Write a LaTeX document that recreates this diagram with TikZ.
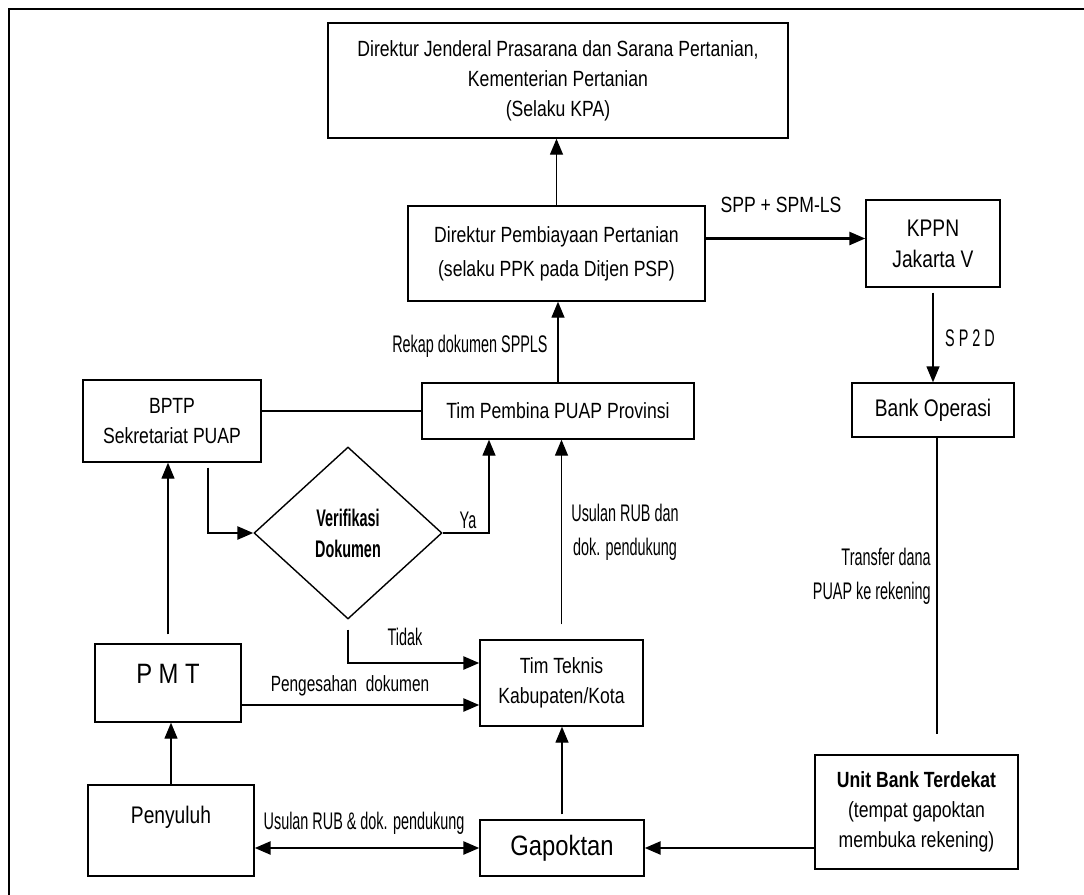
\documentclass[tikz,border=0pt]{standalone}
\usepackage{fontspec}
\setmainfont{Liberation Sans}
\newfontfamily\boxfont{Liberation Sans}[FakeStretch=0.8]
\newfontfamily\slimfont{Liberation Sans}[FakeStretch=0.7]
\newfontfamily\bigfont{Liberation Sans}[FakeStretch=0.85]
\newfontfamily\lblfont{Liberation Sans}[FakeStretch=0.6]
\usetikzlibrary{arrows.meta,positioning,shapes.geometric}
\tikzset{
  txt/.style={font=\boxfont\fontsize{11}{15}\selectfont,inner sep=0pt,align=center},
  bx/.style={txt,draw,line width=0.7pt},
  mid/.style={font=\boxfont\fontsize{12}{15.5}\selectfont},
  big/.style={font=\bigfont\fontsize{14}{17}\selectfont,inner sep=0pt},
  lbl/.style={font=\lblfont\fontsize{12}{17}\selectfont,inner sep=0pt,align=center},
  arr/.style={-{Triangle[length=8pt,width=6.5pt]},line width=0.7pt},
  tarr/.style={arr,line width=1.3pt},
  darr/.style={{Triangle[length=8pt,width=6.5pt]}-{Triangle[length=8pt,width=6.5pt]},line width=1.3pt}
}

\begin{document}
\begin{tikzpicture}[x=0.5pt,y=-0.5pt]
  \useasboundingbox[fill=white] (0,0) rectangle (1084,895);
  \draw[line width=1.2pt] (9,895) -- (9,9) -- (1084,9);
  % boxes
  \node[bx,minimum width=230pt,minimum height=57.5pt] (kpa) at (558,80.5)
    {Direktur Jenderal Prasarana dan Sarana Pertanian,\\Kementerian Pertanian\\(Selaku KPA)};
  \node[bx,minimum width=148.5pt,minimum height=47.5pt,font=\boxfont\fontsize{11}{17}\selectfont] (ppk) at (556.5,253.5)
    {Direktur Pembiayaan Pertanian\\(selaku PPK pada Ditjen PSP)};
  \node[bx,mid,minimum width=67pt,minimum height=43.5pt] (kppn) at (933,243.5) {KPPN\\Jakarta V};
  \node[bx,minimum width=136pt,minimum height=28pt] (tpp) at (558,411) {Tim Pembina PUAP Provinsi};
  \node[bx,mid,minimum width=81pt,minimum height=27pt] (bop) at (933,410) {Bank Operasi};
  \node[bx,minimum width=89pt,minimum height=41pt] (bptp) at (172,421) {BPTP\\Sekretariat PUAP};
  \node[draw,diamond,line width=0.7pt,minimum width=94pt,minimum height=86pt,inner sep=0pt,align=center,
    font=\lblfont\bfseries\fontsize{12}{15.5}\selectfont] (verif) at (348,533) {Verifikasi\\Dokumen};
  \node[bx,minimum width=81.5pt,minimum height=43pt] (ttk) at (561.5,683) {Tim Teknis\\Kabupaten/Kota};
  \node[bx,minimum width=73pt,minimum height=39pt] (pmt) at (168,683) {};
  \node[big] (pmtlbl) at (168,674) {P M T};
  \node[bx,minimum width=83pt,minimum height=45.5pt] (peny) at (171,830.5) {};
  \node[txt,mid] (penylbl) at (171,817) {Penyuluh};
  \node[bx,big,minimum width=82pt,minimum height=28pt] (gap) at (562,848) {Gapoktan};
  \node[bx,minimum width=101.5pt,minimum height=57pt] (ub) at (916.5,812)
    {\textbf{Unit Bank Terdekat}\\(tempat gapoktan\\membuka rekening)};
  % connectors
  \draw[arr] (ppk.north) -- (ppk.north |- kpa.south);
  \draw[tarr] ([yshift=7.5pt]ppk.east) -- ([yshift=7.5pt]ppk.east -| kppn.west);
  \node[txt] (spp) at (781,205) {SPP + SPM-LS};
  \draw[arr] (tpp.north) -- (tpp.north |- ppk.south);
  \node[lbl,anchor=east] (rekap) at (548,346) {Rekap dokumen SPPLS};
  \draw[line width=0.7pt] (bptp.east |- tpp.west) -- (tpp.west);
  \draw[tarr,shorten <=2.5pt] ([xshift=18pt]bptp.south) |- (verif.west);
  \draw[arr] (verif.east) -| ([xshift=-34.5pt]tpp.south);
  \node[lbl] (ya) at (468,520) {Ya};
  \draw[tarr,shorten <=5pt] (verif.south) |- ([yshift=10pt]ttk.west);
  \node[lbl] (tidak) at (405,637) {Tidak};
  \draw[tarr] ([yshift=-11pt]pmt.east) -- ([yshift=-11pt]pmt.east -| ttk.west);
  \node[txt,font=\slimfont\fontsize{11}{15}\selectfont] (sah) at (350,686) {Pengesahan\ \ dokumen};
  \draw[arr,shorten <=4.5pt] (pmt.north) -- (pmt.north |- bptp.south);
  \draw[arr,shorten <=7.5pt] (ttk.north) -- (ttk.north |- tpp.south);
  \node[lbl] (usul) at (625,532) {Usulan RUB dan\\dok. pendukung};
  \draw[arr] (peny.north) -- (peny.north |- pmt.south);
  \draw[arr,shorten <=2.5pt] (gap.north) -- (gap.north |- ttk.south);
  \draw[darr] (gap.west -| peny.east) -- (gap.west);
  \node[lbl] (usul2) at (364,823) {Usulan RUB \& dok. pendukung};
  \draw[tarr] (gap.east -| ub.west) -- (gap.east);
  \draw[arr,shorten <=2.5pt] (kppn.south) -- (kppn.south |- bop.north);
  \node[lbl] (sp2d) at (970,338) {S P 2 D};
  \draw[line width=0.7pt,shorten >=10pt] ([xshift=2pt]bop.south) -- ([xshift=2pt]bop.south |- ub.north);
  \node[lbl,anchor=east,align=right] (trf) at (931,576) {Transfer dana\\PUAP ke rekening};
\end{tikzpicture}
\end{document}
